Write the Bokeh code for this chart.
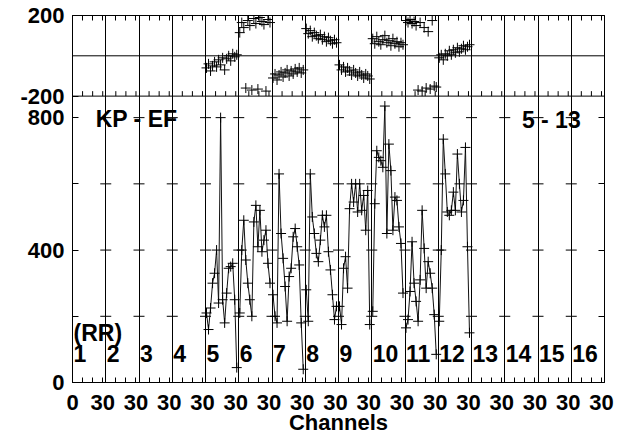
from bokeh.plotting import figure
from bokeh.models import Range1d, LinearAxis, FixedTicker, Span
from bokeh.core.properties import value
from bokeh.embed import file_html
from bokeh.resources import INLINE

# ---------------- data ----------------
n_if = 16
box_width = 33                     # channel units per IF box
channels = [1, 3, 5, 7, 9, 11, 13, 15, 17, 19, 21, 23, 25, 27, 29, 31]
if_numbers = [5, 6, 7, 8, 9, 10, 11, 12]

amp_if05 = [210, 160, 225, 300, 330, 400, 240, 800, 250, 180, 270, 345, 350, 360, 250, 45]
amp_if06 = [210, 400, 490, 370, 300, 250, 200, 485, 535, 410, 520, 395, 430, 460, 360, 300]
amp_if07 = [265, 200, 180, 630, 450, 375, 290, 185, 320, 345, 440, 465, 410, 355, 180, 40]
amp_if08 = [280, 185, 630, 500, 450, 390, 365, 430, 505, 470, 505, 395, 340, 265, 190, 230]
amp_if09 = [230, 175, 345, 380, 285, 525, 600, 545, 600, 515, 600, 520, 565, 460, 580, 175]
amp_if10 = [215, 540, 700, 680, 670, 650, 835, 450, 720, 640, 460, 560, 550, 470, 420, 270]
amp_if11 = [165, 190, 275, 425, 300, 245, 185, 310, 520, 405, 285, 365, 330, 285, 205, 85]
amp_if12 = [185, 400, 735, 630, 515, 505, 520, 575, 520, 690, 600, 515, 550, 710, 410, 150]

ph_if05 = [-60, -40, -75, -50, -30, -55, -20, -45, -10, -70, -15, 0, -25, 10, -5, 5]
ph_if06 = [115, 165, 140, -160, 175, 150, -170, 185, 160, -165, 190, 170, 155, -175, 180, 165]
ph_if07 = [-110, -90, -120, -95, -80, -105, -85, -70, -100, -75, -90, -65, -80, -60, -85, -70]
ph_if08 = [135, 110, 125, 95, 115, 100, 85, 105, 80, 95, 70, 90, 75, 60, 80, 65]
ph_if09 = [-45, -70, -55, -80, -60, -75, -95, -70, -85, -100, -80, -95, -110, -90, -100, -115]
ph_if10 = [85, 60, 95, 70, 55, 80, 100, 65, 75, 50, 85, 60, 70, 45, 65, 55]
ph_if11 = [175, 165, 180, 160, 170, 150, -170, 165, -175, 140, -160, 120, -165, 175, -150, -155]
ph_if12 = [-10, 5, -20, 10, 0, 25, 5, 30, 15, 40, 20, 35, 50, 30, 45, 55]

amp_labels = [0, 400, 800]
amp_minor = [200, 600]
phase_limits = [-200, 200]
x_tick_label_first = "0"
x_tick_label_box = "30"
baseline_label = "KP - EF"
time_label = "5 - 13"
stokes_label = "(RR)"
x_title = "Channels"

amps = [amp_if05, amp_if06, amp_if07, amp_if08, amp_if09, amp_if10, amp_if11, amp_if12]
phases = [ph_if05, ph_if06, ph_if07, ph_if08, ph_if09, ph_if10, ph_if11, ph_if12]

# ---------------- layout constants ----------------
A_TOP = 1108.5        # amplitude at top of frame
AMP_SPLIT = 865.0     # amplitude at the panel separator
P_BOT = -200 - 400 * AMP_SPLIT / (A_TOP - AMP_SPLIT)
FONT = "Liberation Sans"

x_max = n_if * box_width
boundaries = [box_width * k for k in range(1, n_if)]
label_ticks = [0] + [box_width * k + 30 for k in range(n_if)]
small_ticks = [box_width * k + t for k in range(n_if) for t in (10, 20)]
all_small = [box_width * k + t for k in range(n_if) for t in (10, 20, 30)]

p = figure(width=616, height=437, x_range=Range1d(0, x_max), y_range=Range1d(0, A_TOP),
           output_backend="svg", toolbar_location=None,
           min_border_left=72, min_border_right=12, min_border_top=15, min_border_bottom=54)
p.extra_y_ranges = {"phase": Range1d(P_BOT, 200)}
p.background_fill_color = "white"
p.border_fill_color = "white"
p.outline_line_color = "black"
p.outline_line_width = 1

# grid: vertical box boundaries only
p.xgrid.ticker = FixedTicker(ticks=boundaries)
p.xgrid.grid_line_color = "black"
p.xgrid.grid_line_alpha = 1.0
p.ygrid.grid_line_color = None

# left axis
ly = p.yaxis[0]
ly.ticker = FixedTicker(ticks=amp_labels + [AMP_SPLIT, A_TOP], minor_ticks=amp_minor)
ly.major_label_overrides = {AMP_SPLIT: str(phase_limits[0]), A_TOP: str(phase_limits[1])}
ly.major_tick_in = 6
ly.major_tick_out = 0
ly.minor_tick_in = 6
ly.minor_tick_out = 0
ly.minor_tick_line_color = "black"
ly.major_label_standoff = 8
ly.major_label_text_font = FONT
ly.major_label_text_font_style = "bold"
ly.major_label_text_font_size = "22px"
ly.major_label_text_color = "black"
ly.axis_line_color = "black"

# bottom axis
bx = p.xaxis[0]
bx.ticker = FixedTicker(ticks=label_ticks, minor_ticks=small_ticks)
ov = {0: x_tick_label_first}
for t in label_ticks[1:]:
    ov[t] = x_tick_label_box
bx.major_label_overrides = ov
bx.major_tick_in = 5
bx.major_tick_out = 0
bx.minor_tick_in = 5
bx.minor_tick_out = 0
bx.minor_tick_line_color = "black"
bx.major_label_standoff = 12
bx.major_label_text_font = FONT
bx.major_label_text_font_style = "bold"
bx.major_label_text_font_size = "22px"
bx.major_label_text_color = "black"
bx.axis_label = x_title
bx.axis_label_text_font = FONT
bx.axis_label_text_font_style = "bold"
bx.axis_label_text_font_size = "22px"
bx.axis_label_text_color = "black"
bx.axis_label_standoff = -3
bx.axis_line_color = "black"

# right axis (minor ticks only, no labels)
ry = LinearAxis(ticker=FixedTicker(ticks=[], minor_ticks=[200, 400, 600, 800]),
                major_tick_in=0, major_tick_out=0, minor_tick_in=6, minor_tick_out=0,
                minor_tick_line_color="black", major_label_standoff=0, axis_line_color="black")
p.add_layout(ry, "right")

# top axis (minor ticks only, no labels)
tx = LinearAxis(ticker=FixedTicker(ticks=[], minor_ticks=all_small),
                major_tick_in=0, major_tick_out=0, minor_tick_in=5, minor_tick_out=0,
                minor_tick_line_color="black", major_label_standoff=0, axis_line_color="black")
p.add_layout(tx, "above")

# panel separator and phase zero line
p.add_layout(Span(location=phase_limits[0], dimension="width", y_range_name="phase",
                  line_color="black", line_width=1))
p.add_layout(Span(location=0, dimension="width", y_range_name="phase",
                  line_color="black", line_width=1))

# ticks on the separator (pointing up into the phase panel)
tick_len = 5 * 400 / 81
p.segment(x0=all_small, y0=[phase_limits[0]] * len(all_small), x1=all_small,
          y1=[phase_limits[0] + tick_len] * len(all_small), y_range_name="phase",
          line_color="black", line_width=1)

# grid crosses in amplitude panel
cx = [b for b in boundaries for _ in (200, 400, 600, 800)]
cy = [lv for _ in boundaries for lv in (200, 400, 600, 800)]
p.scatter(x=cx, y=cy, marker="dash", size=11, line_color="black", line_width=1)

# data
xs, ys, xall, aall, pall = [], [], [], [], []
for ifn, a, ph in zip(if_numbers, amps, phases):
    xx = [box_width * (ifn - 1) + c for c in channels]
    xs.append(xx)
    ys.append(a)
    xall += xx
    aall += a
    pall += ph

p.multi_line(xs=xs, ys=ys, line_color="#111111", line_width=1)
p.scatter(x=xall, y=aall, marker="cross", size=10, line_color="black", line_width=1)
p.scatter(x=xall, y=pall, marker="cross", size=10, line_color="black", line_width=1,
          y_range_name="phase")

# annotations
p.text(x=[23, 446], y=[797, 794], text=[baseline_label, time_label],
       text_font=value(FONT), text_font_style="bold", text_font_size="23px",
       text_color="black", text_baseline="alphabetic", text_align="left")
p.text(x=[1], y=[150], text=[stokes_label],
       text_font=value(FONT), text_font_style="bold", text_font_size="23px",
       text_color="black", text_baseline="alphabetic", text_align="left")
p.text(x=[box_width * k + 1 for k in range(n_if)], y=[87] * n_if,
       text=[str(k + 1) for k in range(n_if)],
       text_font=value(FONT), text_font_style="bold", text_font_size="23px",
       text_color="black", text_baseline="alphabetic", text_align="left")

open("out.html", "w").write(file_html(p, INLINE))
